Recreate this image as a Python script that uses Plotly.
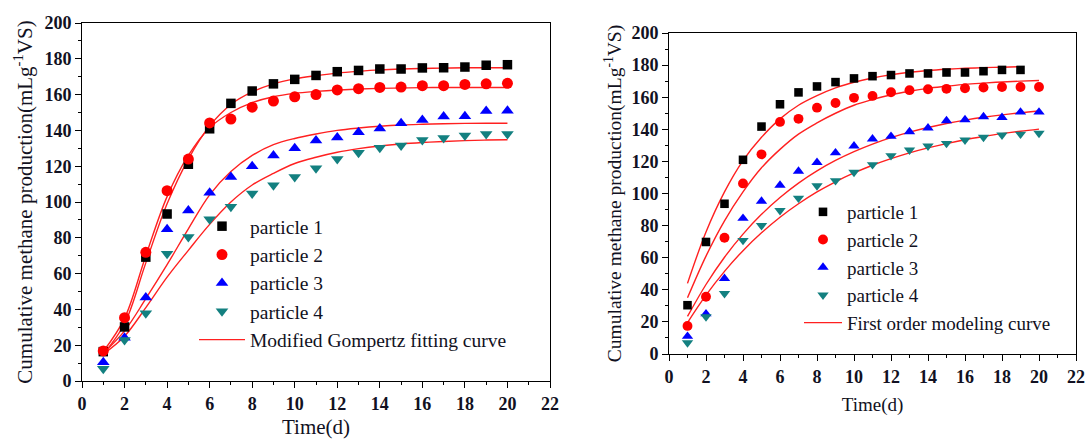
import plotly.graph_objects as go

W, H = 1088, 439

# ---------------- data ----------------
days = list(range(1, 21))
days_19 = list(range(1, 20))

# Left panel: measured values
L_p1 = [16.4, 30.2, 69.2, 93.3, 121.1, 140.9, 155.1, 162.0, 166.0, 168.5, 170.7, 172.8, 173.5, 174.3, 174.3, 174.9, 175.0, 175.4, 176.4, 176.7]
L_p2 = [16.8, 35.4, 71.9, 106.3, 124.0, 144.2, 146.3, 153.0, 156.4, 158.8, 160.0, 162.6, 163.3, 164.0, 164.2, 165.0, 165.0, 165.7, 166.0, 166.3]
L_p3 = [10.5, 24.2, 46.6, 84.8, 95.3, 105.1, 114.0, 120.0, 126.0, 130.0, 134.3, 136.0, 139.0, 141.0, 144.0, 145.8, 147.7, 147.9, 150.8, 151.0]
L_p4 = [6.8, 22.9, 37.8, 71.1, 80.5, 90.4, 97.4, 104.8, 109.3, 114.0, 118.8, 124.0, 127.5, 130.3, 131.6, 134.6, 135.8, 137.2, 138.0, 138.0]

# Left panel: Modified Gompertz fitted curves (read at each day)
L_f1 = [15.0, 32.0, 66.0, 99.0, 124.0, 142.5, 154.5, 161.5, 166.0, 168.8, 170.6, 172.0, 173.0, 173.8, 174.3, 174.6, 174.8, 175.0, 175.0, 175.0]
L_f2 = [16.5, 35.0, 70.0, 103.0, 126.0, 141.5, 150.0, 155.5, 158.8, 160.7, 161.8, 162.6, 163.1, 163.5, 163.7, 163.9, 164.0, 164.0, 164.0, 164.0]
L_f3 = [15.5, 28.0, 46.0, 65.0, 85.0, 104.0, 117.0, 126.0, 132.0, 135.5, 138.0, 140.0, 141.3, 142.3, 143.0, 143.4, 143.7, 143.9, 144.0, 144.0]
L_f4 = [15.0, 25.0, 41.0, 58.0, 73.0, 87.5, 100.0, 109.5, 116.0, 121.5, 125.0, 127.8, 129.8, 131.3, 132.4, 133.2, 133.8, 134.3, 134.6, 134.8]

# Right panel: measured values
R_p1 = [30.4, 69.8, 93.6, 121.0, 141.7, 155.6, 163.0, 166.7, 169.4, 171.7, 173.1, 173.8, 174.8, 174.8, 175.4, 175.4, 176.2, 177.0, 177.0]
R_p2 = [17.5, 35.7, 72.4, 106.3, 124.4, 144.6, 146.5, 153.5, 156.4, 159.6, 160.8, 163.1, 164.4, 165.0, 165.2, 165.6, 166.0, 166.4, 166.4, 166.4]
R_p3 = [11.0, 25.0, 47.1, 84.5, 95.2, 105.2, 113.9, 119.3, 125.3, 129.6, 134.0, 135.6, 138.5, 140.8, 145.3, 146.0, 147.8, 147.4, 150.7, 150.7]
R_p4 = [7.0, 23.2, 37.7, 70.8, 80.0, 89.4, 97.1, 104.8, 108.0, 113.2, 118.0, 123.6, 127.1, 129.6, 131.2, 133.3, 135.0, 136.4, 137.0, 137.5]

# Right panel: first order model curves (read at each day)
R_f1 = [44.0, 76.0, 101.0, 120.5, 135.0, 146.5, 155.0, 161.0, 165.8, 169.3, 172.0, 174.0, 175.5, 176.6, 177.4, 178.0, 178.4, 178.7, 179.0]
R_f2 = [35.0, 61.0, 83.0, 101.0, 116.0, 127.5, 137.0, 144.0, 150.0, 155.0, 158.5, 161.5, 163.7, 165.5, 166.8, 168.0, 168.8, 169.5, 170.0, 170.4]
R_f3 = [23.4, 43.3, 60.3, 74.7, 87.0, 97.5, 106.5, 114.1, 120.6, 126.1, 130.8, 134.8, 138.2, 141.1, 143.6, 145.7, 147.5, 149.0, 150.3, 151.4]
R_f4 = [19.6, 36.7, 51.5, 64.4, 75.5, 85.2, 93.6, 101.0, 107.3, 112.8, 117.6, 121.7, 125.3, 128.4, 131.1, 133.5, 135.5, 137.3, 138.8, 140.1]

names = ["particle 1", "particle 2", "particle 3", "particle 4"]
left_fit_name = "Modified Gompertz fitting curve"
right_fit_name = "First order modeling curve"
y_title = "Cumulative methane production(mLg<sup>-1</sup>VS)"
x_title = "Time(d)"

# ---------------- styling ----------------
symbols = ["square", "circle", "triangle-up", "triangle-down"]
colors = ["#000000", "#ff0000", "#0000ff", "#138080"]
sizes = [9.5, 11, 11, 11]
fit_color = "#ff2020"
SERIF = "Liberation Serif, Times New Roman, serif"


def fx(px):
    return px / W


def fy(py):
    return 1 - py / H


fig = go.Figure()

panels = [
    dict(xa="x", ya="y", leg="legend",
         meas=[(days, L_p1), (days, L_p2), (days, L_p3), (days, L_p4)],
         fits=[(days, L_f1), (days, L_f2), (days, L_f3), (days, L_f4)],
         fitname=left_fit_name, msc=1.0),
    dict(xa="x2", ya="y2", leg="legend2",
         meas=[(days_19, R_p1), (days, R_p2), (days, R_p3), (days, R_p4)],
         fits=[(days_19, R_f1), (days, R_f2), (days, R_f3), (days, R_f4)],
         fitname=right_fit_name, msc=0.9),
]

for p in panels:
    for i, (xs, ys) in enumerate(p["fits"]):
        fig.add_trace(go.Scatter(
            x=xs, y=ys, mode="lines", xaxis=p["xa"], yaxis=p["ya"],
            line=dict(color=fit_color, width=1.4, shape="spline", smoothing=1.0),
            name=p["fitname"], showlegend=(i == 0), legend=p["leg"], legendrank=10,
            hoverinfo="skip"))
    for i, (xs, ys) in enumerate(p["meas"]):
        fig.add_trace(go.Scatter(
            x=xs, y=ys, mode="markers", xaxis=p["xa"], yaxis=p["ya"],
            marker=dict(symbol=symbols[i], color=colors[i], size=sizes[i] * p["msc"],
                        line=dict(width=0)),
            name=names[i], legend=p["leg"], legendrank=i + 1))

axis_common = dict(
    showline=True, linecolor="black", linewidth=1, mirror=True,
    showgrid=False, zeroline=False, automargin=False,
    ticks="outside", ticklen=6, tickwidth=1, tickcolor="black",
    tickfont=dict(family=SERIF, size=18, color="#111122", weight="bold"),
)

xcommon = dict(axis_common, range=[0, 22], tick0=0, dtick=2,
               minor=dict(dtick=1, ticks="outside", ticklen=3, tickcolor="black"))
ycommon = dict(axis_common, range=[0, 200], tick0=0, dtick=20,
               minor=dict(dtick=10, ticks="outside", ticklen=3, tickcolor="black"))

fig.update_layout(
    template="none",
    width=W, height=H,
    margin=dict(l=0, r=0, t=0, b=0),
    paper_bgcolor="white", plot_bgcolor="white",
    font=dict(family=SERIF, color="#111122"),
    xaxis=dict(xcommon, domain=[fx(82), fx(550)], anchor="y",
               title=dict(text=x_title, font=dict(family=SERIF, size=21), standoff=8)),
    yaxis=dict(ycommon, domain=[fy(381), fy(23)], anchor="x",
               title=dict(text=y_title, font=dict(family=SERIF, size=21), standoff=6)),
    xaxis2=dict(xcommon, domain=[fx(669), fx(1076)], anchor="y2",
                title=dict(text=x_title, font=dict(family=SERIF, size=19), standoff=12)),
    yaxis2=dict(ycommon, domain=[fy(354), fy(33)], anchor="x2",
                title=dict(text=y_title, font=dict(family=SERIF, size=19.5), standoff=4)),
    legend=dict(x=fx(194), y=fy(207), xanchor="left", yanchor="top",
                bgcolor="rgba(0,0,0,0)", borderwidth=0, itemwidth=46,
                font=dict(family=SERIF, size=19.5, color="#111122"),
                traceorder="normal"),
    legend2=dict(x=fx(799), y=fy(193), xanchor="left", yanchor="top",
                 bgcolor="rgba(0,0,0,0)", borderwidth=0, itemwidth=38,
                 font=dict(family=SERIF, size=19, color="#111122"),
                 traceorder="normal"),
    showlegend=True,
)

fig.write_html("out.html")
